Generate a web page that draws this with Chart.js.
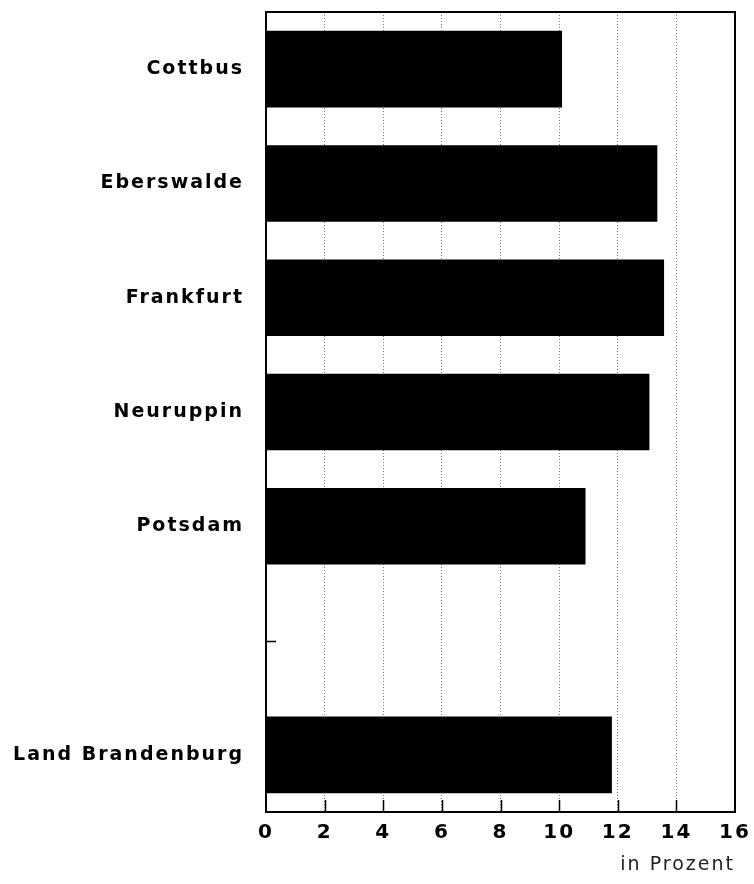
<!DOCTYPE html>
<html>
<head>
<meta charset="utf-8">
<script src="https://cdn.jsdelivr.net/npm/chart.js@4"></script>
<style>
  html, body { margin: 0; padding: 0; background: #fff; }
  #wrap { width: 754px; height: 884px; }
</style>
</head>
<body>
<div id="wrap"><canvas id="bars"></canvas></div>
<script>
// Kreise / Land Brandenburg, Anteil in Prozent
const regions = ["Cottbus", "Eberswalde", "Frankfurt", "Neuruppin", "Potsdam", "", "Land Brandenburg"];
const shares = [10.1, 13.35, 13.58, 13.08, 10.9, null, 11.8];
const xTicks = [0, 2, 4, 6, 8, 10, 12, 14, 16];

// wide, tracked lettering like the printed original
const spacing = {
  id: "spacing",
  beforeLayout: c => { c.ctx.letterSpacing = "2px"; },
  beforeDraw: c => { c.ctx.letterSpacing = "2px"; },
};

/** Frame around the plot plus small inner tick marks. */
const frame = {
  id: "frame",
  afterDatasetsDraw(chart) {
    const { ctx, chartArea: a, scales } = chart;
    ctx.save();
    ctx.strokeStyle = "#000";
    ctx.lineWidth = 1.5;
    ctx.beginPath();
    xTicks.slice(1, -1).forEach(v => {
      const px = Math.round(scales.x.getPixelForValue(v)) + 0.5;
      ctx.moveTo(px, a.bottom);
      ctx.lineTo(px, a.bottom - 12);
    });
    regions.forEach((_, i) => {
      const py = Math.round(scales.y.getPixelForValue(i)) + 0.5;
      ctx.moveTo(a.left, py);
      ctx.lineTo(a.left + 10, py);
    });
    ctx.stroke();
    ctx.lineWidth = 2;
    ctx.strokeRect(a.left, a.top, a.right - a.left, a.bottom - a.top);
    ctx.restore();
  },
};

new Chart(document.getElementById("bars"), {
  type: "bar",
  data: {
    labels: regions,
    datasets: [{
      data: shares,
      backgroundColor: "#000",
      borderWidth: 0,
      categoryPercentage: 1,
      barPercentage: 0.67,
    }],
  },
  options: {
    indexAxis: "y",
    responsive: true,
    maintainAspectRatio: false,
    animation: false,
    layout: { padding: { top: 12, right: 19, bottom: 0, left: 0 } },
    plugins: { legend: { display: false }, tooltip: { enabled: false } },
    scales: {
      x: {
        min: 0,
        max: 16,
        afterBuildTicks: s => { s.ticks = xTicks.map(v => ({ value: v })); },
        afterFit: s => {
          s.height = 72;
          s.paddingLeft = 0;
          s.paddingRight = 0;
        },
        ticks: {
          color: "#000",
          padding: 9,
          maxRotation: 0,
          font: { family: "DejaVu Sans", size: 20, weight: "bold" },
        },
        grid: {
          drawTicks: false,
          color: ctx => (ctx.tick && (ctx.tick.value === 0 || ctx.tick.value === 16)) ? "rgba(0,0,0,0)" : "#777",
          lineWidth: 1,
        },
        border: { display: false, dash: [1, 2] },
        title: {
          display: true,
          text: "in Prozent",
          align: "end",
          color: "#222",
          padding: { top: 4, bottom: 8 },
          font: { family: "DejaVu Sans", size: 19, weight: "normal" },
        },
      },
      y: {
        afterFit: s => {
          s.width = 266;
          s.paddingTop = 0;
          s.paddingBottom = 0;
        },
        ticks: {
          color: "#000",
          padding: 22,
          font: { family: "DejaVu Sans", size: 19, weight: "bold" },
        },
        grid: { display: false, drawTicks: false },
        border: { display: false },
      },
    },
  },
  plugins: [spacing, frame],
});
</script>
</body>
</html>
